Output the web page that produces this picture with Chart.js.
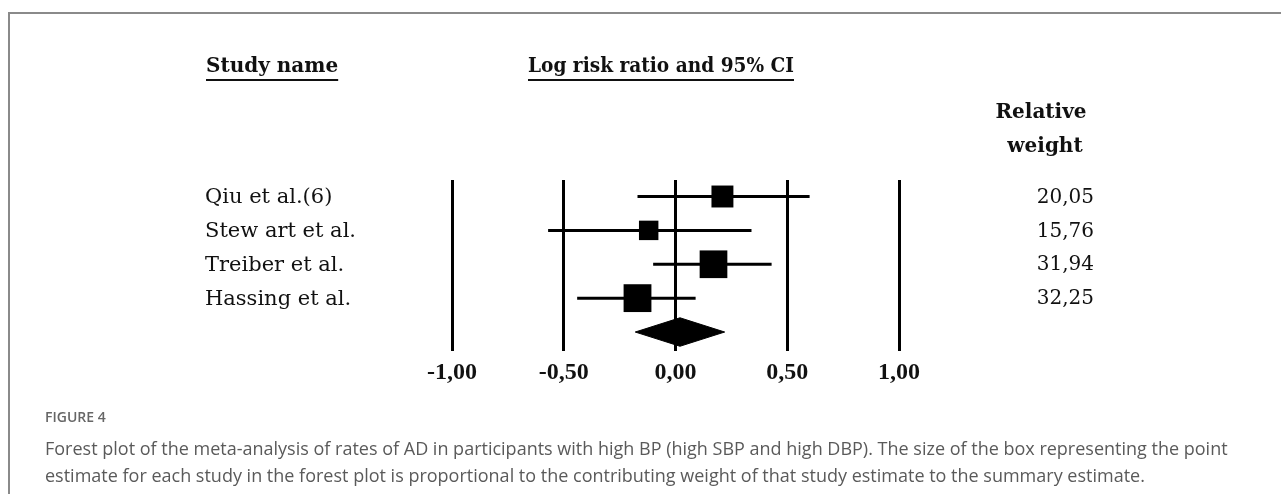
<!DOCTYPE html>
<html>
  <head>
    <title>Forest Plot</title>
    <script src="https://cdn.jsdelivr.net/npm/chart.js"></script>
    <style>
      body { margin: 0; background: #fff; }
    </style>
  </head>
  <body>
    <canvas id="forestChart" width="1281" height="494"></canvas>
    <script>
      // Values (log risk ratio scale)
      const studies = ["Qiu et al.(6)", "Stew art et al.", "Treiber et al.", "Hassing et al."];
      const estimates = [0.21, -0.12, 0.17, -0.17];
      const lowerCI = [-0.17, -0.57, -0.1, -0.44];
      const upperCI = [0.6, 0.34, 0.43, 0.09];
      const weights = [20.05, 15.76, 31.94, 32.25];
      const weightLabels = ["20,05", "15,76", "31,94", "32,25"];
      // summary diamond: lower, point, upper
      const summary = [-0.18, 0.02, 0.22];
      const xTickValues = [-1, -0.5, 0, 0.5, 1];
      const xTickLabels = ["-1,00", "-0,50", "0,00", "0,50", "1,00"];

      const captionLines = [
        "Forest plot of the meta-analysis of rates of AD in participants with high BP (high SBP and high DBP). The size of the box representing the point",
        "estimate for each study in the forest plot is proportional to the contributing weight of that study estimate to the summary estimate.",
      ];

      const summaryRow = studies.length;

      // box side grows with sqrt of weight
      const boxRadius = weights.map((w) => (4.9 * Math.sqrt(w)) / 2 / Math.SQRT1_2);

      const ciDatasets = studies.map((name, i) => ({
        label: name,
        data: [
          { x: lowerCI[i], y: i },
          { x: upperCI[i], y: i },
        ],
        showLine: true,
        borderColor: "#000",
        borderWidth: 3,
        pointRadius: 0,
        order: 2,
      }));

      const datasets = [
        {
          label: "Estimate",
          data: studies.map((_, i) => ({ x: estimates[i], y: i })),
          pointStyle: "rect",
          pointRadius: boxRadius,
          backgroundColor: "#000",
          borderColor: "#000",
          borderWidth: 0,
          order: 0,
        },
        {
          label: "Summary",
          data: [
            { x: summary[0], y: summaryRow },
            { x: summary[1], y: summaryRow - 0.42 },
            { x: summary[2], y: summaryRow },
            { x: summary[1], y: summaryRow + 0.42 },
            { x: summary[0], y: summaryRow },
          ],
          showLine: true,
          fill: "shape",
          backgroundColor: "#000",
          borderColor: "#000",
          borderWidth: 1,
          pointRadius: 0,
          order: 1,
        },
        ...ciDatasets,
      ];

      // text, frame and caption drawn around the plot
      const textPlugin = {
        id: "forestText",
        beforeDraw(chart) {
          const ctx = chart.ctx;
          ctx.save();
          ctx.fillStyle = "#fff";
          ctx.fillRect(0, 0, chart.width, chart.height);
          ctx.strokeStyle = "#8a8a8a";
          ctx.lineWidth = 2;
          ctx.beginPath();
          ctx.moveTo(9, chart.height);
          ctx.lineTo(9, 13);
          ctx.lineTo(chart.width, 13);
          ctx.stroke();
          ctx.restore();
        },
        afterDraw(chart) {
          const ctx = chart.ctx;
          const yScale = chart.scales.y;
          ctx.save();
          ctx.fillStyle = "#111";
          ctx.textBaseline = "middle";

          ctx.font = '21px "DejaVu Serif"';
          ctx.textAlign = "left";
          studies.forEach((s, i) => ctx.fillText(s, 205, yScale.getPixelForValue(i) + 1));
          ctx.font = '20px "DejaVu Serif"';
          ctx.textAlign = "right";
          weightLabels.forEach((s, i) => ctx.fillText(s, 1094, yScale.getPixelForValue(i) + 1));

          ctx.font = 'bold 20px "DejaVu Serif"';
          ctx.textAlign = "left";
          const underlined = (text, x, y, maxW) => {
            ctx.fillText(text, x, y, maxW);
            const w = Math.min(ctx.measureText(text).width, maxW);
            ctx.fillRect(x, y + 12, w, 2);
          };
          underlined("Study name", 206, 67, 136);
          underlined("Log risk ratio and 95% CI", 528, 67, 266);
          ctx.textAlign = "center";
          ctx.fillText("Relative", 1041, 113);
          ctx.fillText("weight", 1045, 147);

          ctx.textAlign = "left";
          ctx.fillStyle = "#666";
          ctx.font = '600 14px "Open Sans"';
          ctx.fillText("FIGURE 4", 45, 418);
          ctx.fillStyle = "#5a5a5a";
          ctx.font = '18px "Open Sans"';
          ctx.fillText(captionLines[0], 45, 450, 1194);
          ctx.fillText(captionLines[1], 45, 477, 1194);
          ctx.restore();
        },
      };

      const ctx = document.getElementById("forestChart").getContext("2d");

      new Chart(ctx, {
        type: "scatter",
        data: { datasets: datasets },
        plugins: [textPlugin],
        options: {
          responsive: false,
          animation: false,
          devicePixelRatio: 1,
          layout: {
            padding: { top: 180, bottom: 103, left: 452, right: 382 },
          },
          scales: {
            x: {
              type: "linear",
              min: -1,
              max: 1,
              afterFit: (scale) => {
                scale.height = 40;
              },
              afterBuildTicks: (scale) => {
                scale.ticks = xTickValues.map((v) => ({ value: v }));
              },
              grid: { color: "#000", lineWidth: 3, drawTicks: false },
              border: { display: false },
              ticks: {
                padding: 7,
                color: "#111",
                font: { family: "Liberation Serif", weight: "bold", size: 24 },
                callback: (v) => xTickLabels[xTickValues.indexOf(v)],
              },
            },
            y: {
              type: "linear",
              reverse: true,
              min: -0.487,
              max: 4.56,
              display: false,
            },
          },
          plugins: {
            legend: { display: false },
            tooltip: { enabled: false },
          },
        },
      });
    </script>
  </body>
</html>
